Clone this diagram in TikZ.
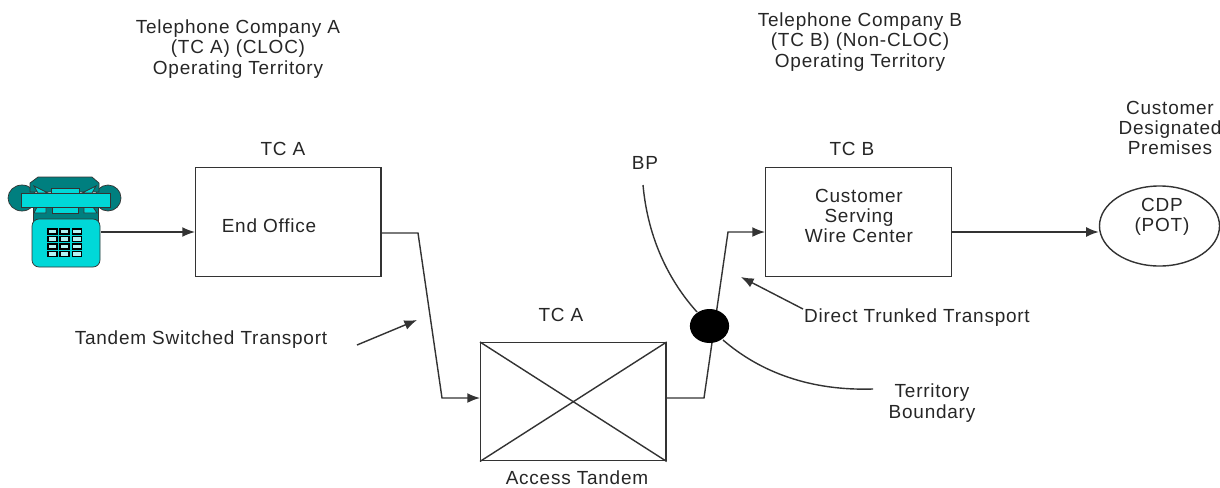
\documentclass[tikz,border=0pt]{standalone}
\usepackage{fontspec}
\setmainfont[LetterSpace=4]{Liberation Sans}
\usepackage{xcolor}
\usetikzlibrary{calc, arrows.meta, shapes.geometric}
\definecolor{phonecolor}{HTML}{00D8D8}
\definecolor{phonedark}{HTML}{007F7F}
\newcommand{\linecolor}{black!80}

\begin{document}
\begin{tikzpicture}[x=0.025cm, y=-0.025cm]
	\tikzstyle{boxc}=[draw=\linecolor, line width=1pt, anchor=north west, inner sep=0pt]
	\tikzstyle{label}=[font=\fontsize{13.5}{14.4}\selectfont, align=center, text=black!85, inner sep=0pt]
	\tikzstyle{wire}=[draw=\linecolor, line width=1pt]
	\tikzstyle{arrowc}=[wire, -{Latex[length=9pt, width=7pt]}]
	\useasboundingbox (0,0) rectangle (1220,487);
	
	% boxes
	\node (endoffice) at (195,167) [boxc, minimum width=4.63cm, minimum height=2.72cm]{};
	\node (tandem) at (480,342) [boxc, minimum width=4.63cm, minimum height=2.95cm]{};
	\node (wirecenter) at (765,167) [boxc, minimum width=4.65cm, minimum height=2.72cm]{};
	\node (cdp) at (1159.5,226) [ellipse, draw=\linecolor, line width=1pt, minimum width=3cm, minimum height=2cm, inner sep=0pt]{};
	\draw[wire] (tandem.north west) -- (tandem.south east);
	\draw[wire] (tandem.south west) -- (tandem.north east);
	
	% phone
	\node (phone) at (66,232) [inner sep=0pt, minimum width=1.75cm, minimum height=0pt]{};
	\tikzstyle{phonec}=[draw=black!80, line width=0.5pt, fill=phonecolor]
	\tikzstyle{phoned}=[draw=black!80, line width=0.5pt, fill=phonedark]
	\draw[phoned] (22,198) ellipse (14 and 13);
	\draw[phoned] (108,198) ellipse (13 and 13);
	\draw[phoned] (30,192) -- (30,183) -- (38,177) -- (92,177) -- (99,183) -- (99,192) -- cycle;
	\draw[phoned] (33,222) -- (33,207) -- (98,207) -- (98,222) -- cycle;
	\draw[phonec] (51,188) rectangle (79,193);
	\draw[phonec] (38,193) -- (48,193) -- (34,186) -- cycle;
	\draw[phonec] (92,193) -- (82,193) -- (96,186) -- cycle;
	\draw[phonec] (52,207) rectangle (78,213);
	\draw[phonec] (37,207) -- (46,207) -- (46,213) -- (34,213) -- cycle;
	\draw[phonec] (84,207) -- (93,207) -- (97,213) -- (84,213) -- cycle;
	\draw[phonec] (21,193) rectangle (110,207);
	\draw[phonec, rounded corners=5pt] (32,219) rectangle (100,267);
	\foreach \col in {0,1,2} {
		\foreach \row in {0,1,2,3} {
			\draw[draw=black, line width=1pt, fill=phonecolor!30] ({48+\col*12.2},{229+\row*7.5}) rectangle ({57+\col*12.2},{234+\row*7.5});
		}
	}
	
	% connectors
	\coordinate (eoout) at (418,233);
	\coordinate (tdin) at (442,398);
	\coordinate (tdout) at (704,398);
	\coordinate (wcin) at (728,232);
	\coordinate (tsfrom) at (357,345);
	\coordinate (tsto) at (417,320);
	\coordinate (dtfrom) at (803,309);
	\coordinate (dtto) at (741,277);
	\coordinate (bptop) at (643,185);
	\coordinate (bpend) at (873,389);
	\draw[wire] (bptop) .. controls (648,240) and (670,282) .. (697,312);
	\draw[wire] (723,340) .. controls (760,372) and (810,391) .. (bpend);
	
	\draw[arrowc] (phone.east) -- (endoffice.west |- phone.east);
	\draw[arrowc] (endoffice.east |- eoout) -- (eoout) -- (tdin) -- (tandem.west |- tdin);
	\draw[arrowc] (tandem.east |- tdout) -- (tdout) -- (wcin) -- (wirecenter.west |- wcin);
	\draw[arrowc] (wirecenter.east |- wcin) -- (cdp.west |- wcin);
	\draw[arrowc] (tsfrom) -- (tsto);
	\draw[arrowc] (dtfrom) -- (dtto);
	\node (bpdot) at (709.5,326) [ellipse, fill=black, minimum width=0.98cm, minimum height=0.85cm, inner sep=0pt]{};
	
	% labels
	\node (tcatitle) at (238,49) [label]{Telephone Company A\\(TC A) (CLOC)\\Operating Territory};
	\node (tcbtitle) at (860,42) [label]{Telephone Company B\\(TC B) (Non-CLOC)\\Operating Territory};
	\node (cdptitle) at (1170,128) [label]{Customer\\Designated\\Premises};
	\node (tca1) at (283,149) [label]{TC A};
	\node (eolabel) at (269,226) [label]{End Office};
	\node (tca2) at (561,315) [label]{TC A};
	\node (atlabel) at (577,478) [label]{Access Tandem};
	\node (tcb) at (852,149) [label]{TC B};
	\node (wclabel) at (859,216) [label]{Customer\\Serving\\Wire Center};
	\node (cdplabel) at (1162,217) [label]{CDP\\(POT)};
	\node (bplabel) at (645,163) [label]{BP};
	\node (tslabel) at (201,340) [label]{Tandem Switched Transport};
	\node (dtlabel) at (917,318) [label]{Direct Trunked Transport};
	\node (tblabel) at (932,403) [label]{Territory\\Boundary};
\end{tikzpicture}
\end{document}
